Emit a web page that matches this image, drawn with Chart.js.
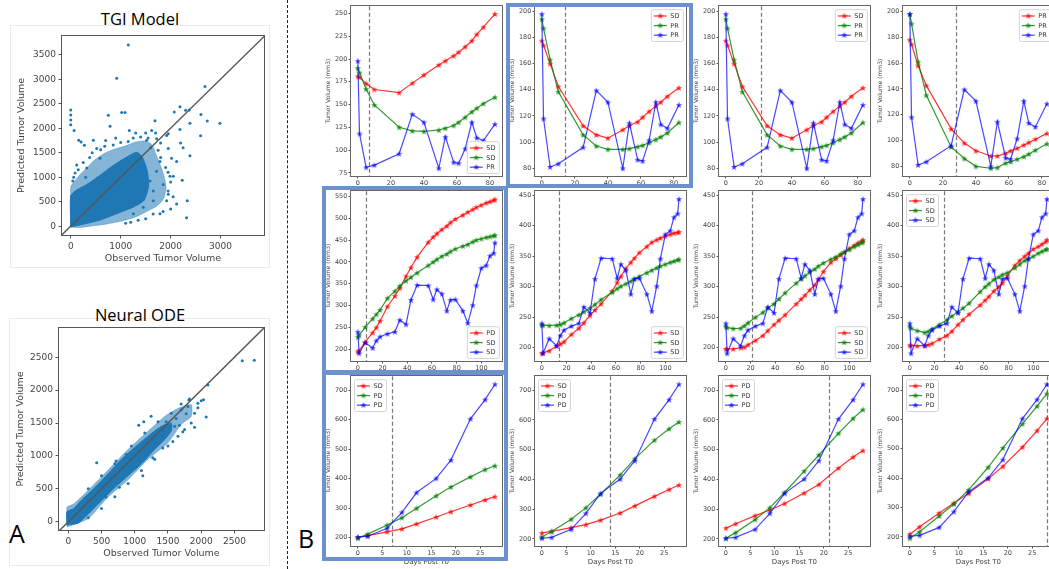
<!DOCTYPE html>
<html>
<head>
<meta charset="utf-8">
<script src="https://cdn.jsdelivr.net/npm/chart.js@4.4.1/dist/chart.umd.min.js"></script>
<style>
html, body { margin: 0; padding: 0; background: #fff; overflow: hidden; width: 1049px; height: 569px; }
canvas { position: absolute; }
.box { position: absolute; border: 4px solid #6d90cf; box-sizing: border-box; pointer-events: none; }
.panel { position: absolute; border: 1px solid #ebebeb; box-sizing: border-box; }
.ttl { position: absolute; font-family: 'Open Sans', sans-serif; font-size: 16.5px; line-height: 16px; color: #000; transform: translateX(-50%); white-space: nowrap; }
.lab { position: absolute; font-family: 'Open Sans', sans-serif; font-size: 25px; line-height: 25px; color: #000; }
#divider { position: absolute; left: 287px; top: 0; height: 569px; border-left: 1px dashed #222; }
</style>
</head>
<body>
<div class="panel" style="left:10px;top:25px;width:260px;height:243px"></div>
<div class="panel" style="left:9px;top:318px;width:261px;height:248px"></div>
<div class="ttl" style="left:140px;top:11px">TGI Model</div>
<div class="ttl" style="left:140px;top:307px">Neural ODE</div>
<div class="lab" style="left:9px;top:521px">A</div>
<div class="lab" style="left:298px;top:526px">B</div>
<div id="divider"></div>
<div id="charts"></div>
<div class="box" style="left:506px;top:3px;width:187px;height:185px"></div>
<div class="box" style="left:322px;top:186px;width:186px;height:188px"></div>
<div class="box" style="left:322px;top:371px;width:186px;height:190px"></div>

<script>
// ---- panel A: observed vs predicted (dense cloud outlined, sparse points listed) ----
const tgiCore = [[0,-15],[0,620],[120,740],[320,850],[587,1040],[853,1240],[1120,1410],[1320,1510],[1430,1420],[1530,1140],[1560,820],[1470,530],[1253,390],[920,255],[587,125],[253,40],[0,-15]];
const tgiHalo = [[0,-20],[0,800],[80,920],[200,1070],[350,1220],[500,1370],[700,1500],[900,1580],[1100,1640],[1300,1720],[1500,1740],[1630,1660],[1710,1460],[1790,1260],[1860,1050],[1910,800],[1860,560],[1710,400],[1500,290],[1300,190],[1000,100],[700,40],[400,0],[200,-25],[0,-20]];
const tgiPoints = [[1153,3700],[920,3020],[0,2370],[0,2270],[0,2170],[0,2070],[67,1953],[160,1753],[207,1720],[273,1653],[753,2267],[1020,2320],[1087,2320],[787,2040],[1173,1953],[1687,2153],[2073,2333],[2187,2440],[2300,2367],[2373,2373],[2687,2853],[2607,2280],[2733,2147],[2987,2100],[2387,2100],[2187,1973],[1953,1887],[2600,1847],[2387,1440],[2233,940],[2333,520],[2320,173],[2120,453],[1953,653],[1787,253],[1653,520],[1853,853],[1987,1020],[2053,1020],[453,1753],[520,1587],[587,1387],[87,1087],[40,920],[320,1187],[1520,1753],[1720,1787],[1920,1853],[1620,1953],[1953,1587],[2020,1387],[2120,1320],[1787,1320],[1720,1120],[1587,920],[1453,387],[1253,253],[1653,720],[1920,520],
    [150,1150],[250,1300],[380,1400],[430,1500],[600,1560],[680,1630],[850,1660],[1000,1710],[1150,1730],[1250,1800],[1400,1820],[1550,1800],[1600,1600],[1750,1550],[1800,1400],[1900,1200],[1950,1100],[2000,900],[1950,720],[2050,600],[2000,350],[1850,300],[1650,250],[1500,150],[1350,120],[1200,80],[1100,60],[300,1000],[60,1000],[120,1250],[1800,1700],[1700,1900],[2200,1700],[2250,1600],[1500,1900],[1300,1900],[900,1800],[700,1750]];
const odeCore = [[-20,-50],[150,-20],[300,120],[500,320],[700,520],[900,700],[1100,880],[1300,1100],[1450,1250],[1550,1380],[1550,1500],[1400,1450],[1200,1300],[1000,1130],[800,950],[600,730],[400,520],[200,330],[80,200],[-20,150],[-20,-50]];
const odeHalo = [[-20,-80],[300,50],[600,380],[900,640],[1200,950],[1500,1200],[1700,1480],[1850,1600],[1850,1780],[1650,1720],[1450,1600],[1250,1420],[1050,1240],[850,1050],[650,840],[450,630],[250,430],[80,270],[-20,220],[-20,-80]];
const odePoints = [[2618,2445],[2799,2455],[2100,2078],[1824,1865],[2000,1840],[2035,1855],[1950,1731],[2075,1592],[1900,1434],[1698,1790],[1246,1602],[1136,1518],[1060,1468],[427,898],[1472,1518],[1623,1568],[1673,1468],[1774,1642],[1573,1220],[1422,1121],[1271,972],[1121,699],[970,823],[769,526],[568,377],[317,228],[166,104],[719,923],[869,1022],[1322,1270],[1724,1369],[1814,1850],
    [300,500],[500,700],[700,880],[950,1150],[1150,1350],[1350,1520],[1550,1650],[1700,1700],[1800,1750],[1900,1650],[1850,1500],[1750,1400],[1650,1300],[1500,1150],[1300,950],[1100,780],[900,580],[700,380],[500,200],[300,60],[1950,1800],[1600,1450],[1400,1300],[1200,1050]];
const tgiTicksX = [0, 1000, 2000, 3000];
const tgiTicksY = [0, 500, 1000, 1500, 2000, 2500, 3000, 3500];
const odeTicks = [0, 500, 1000, 1500, 2000, 2500];

// ---- panel B: tumour volume over days (red, green = model, blue = observed) ----
const daysR1 = [0, 1, 5, 10, 25, 33, 40, 49, 53, 58, 61, 65, 69, 72, 76, 83];
const obsR1 = [198, 118, 81, 83.5, 96, 139.5, 130.5, 80, 114.5, 86.5, 85.5, 101.5, 130.5, 113.5, 110.5, 128.5];
const r1c1Red = [181, 180, 173, 166.5, 163, 173.5, 182.5, 193.5, 198, 203.5, 207.5, 213.5, 220, 227, 235, 249.5];
const r1c1Green = [190, 185, 167, 149.5, 125, 121, 120.5, 122, 124, 127, 130.5, 136, 142, 146, 151, 158];
const r1c2Red = [177.5, 174, 160, 142.5, 112.5, 105.5, 103, 109.5, 112.5, 115.5, 119, 123.5, 127.5, 130.5, 135, 141.5];
const r1c2Green = [194, 187, 163, 138.5, 105.5, 97, 94.5, 94.5, 95, 96.5, 97.5, 99.5, 102, 104, 107, 115];
const r1c3Red = [177.5, 174, 160, 142.5, 112.5, 105.5, 103, 109.5, 112.5, 115.5, 119, 123.5, 127.5, 130.5, 135, 141.5];
const r1c3Green = [194, 187, 163, 138.5, 105.5, 97, 94.5, 94.5, 95, 96.5, 97.5, 99.5, 102, 104, 107, 115];
const r1c4Red = [178, 174.5, 158, 142.5, 109, 98, 92, 88, 88, 90, 92, 94, 96.5, 98.5, 101, 105.5];
const r1c4Green = [198, 190.5, 161, 135, 95, 86, 80, 78.5, 79, 82.5, 83.5, 85.5, 87.5, 89.5, 92.5, 97.5];

const daysR2 = [0, 1, 6, 12, 15, 18, 24, 30, 34, 39, 43, 48, 57, 61, 64, 68, 72, 75, 79, 85, 89, 93, 96, 100, 104, 107, 110, 111];
const obsR2 = [240, 191, 215, 203, 220, 229, 235.5, 240, 267, 257, 313, 347, 346, 314, 337, 327, 288, 313, 314, 288, 260, 301, 346, 386, 392, 414, 420, 444];
const r2c1Red = [195, 197, 217, 238, 250, 265, 298, 322, 340, 367, 387, 411, 445, 457, 465, 474, 482, 490, 498, 507, 514, 520, 525, 530, 535, 538, 541, 543];
const r2c1Green = [228, 232, 251, 270, 280, 290, 317, 333, 345, 357, 365, 375, 392, 400, 406, 413, 418, 424, 430, 436, 440, 446, 450, 453, 456, 458, 460, 461];
const r2c2Red = [191, 192, 195, 203, 206, 210, 222, 232, 241, 253, 262, 272, 293, 307, 317, 330, 340, 347, 356, 366, 373, 377, 380, 383, 386, 388, 389, 390];
const r2c2Green = [237, 237, 236.5, 237, 238, 241, 248, 254, 259, 265, 271, 279, 291, 297, 301, 305, 309, 313, 317, 323, 327, 331, 334, 337, 340, 342, 344, 345];
const r2c3Red = [198, 198, 198, 200, 201, 205, 212, 220, 228, 238, 245, 254, 272, 280, 286, 295, 303, 312, 325, 340, 346, 352, 357, 363, 368, 372, 375, 377];
const r2c3Green = [235, 233, 231.5, 232, 236, 241, 250, 258, 265, 272, 280, 290, 306, 313, 318, 324, 329, 334, 339, 345, 349, 354, 357, 361, 366, 369, 372, 374];
const r2c4Red = [204, 204, 203, 204, 205, 207, 214, 220, 227, 238, 246, 255, 270, 278, 284, 293, 300, 306, 318, 335, 343, 350, 355, 362, 366, 370, 374, 377];
const r2c4Green = [235, 232, 228, 225, 227, 231, 238, 246, 252, 259, 265, 273, 292, 300, 305, 312, 316, 320, 323, 331, 337, 343, 346, 350, 355, 358, 361, 362];

const daysR3 = [0, 2, 6, 9, 12, 16, 19, 23, 26, 28];
const obsR3 = [202, 205, 232, 286, 353, 401, 463, 603, 668, 720];
const r3c1Red = [202, 207, 220, 230, 247, 270, 288, 311, 328, 339];
const r3c1Green = [198, 212, 243, 268, 300, 342, 372, 406, 431, 444];
const r3c2Red = [220, 225, 238, 248, 263, 287, 311, 343, 366, 381];
const r3c2Green = [206, 225, 266, 305, 350, 415, 470, 532, 570, 593];
const r3c3Red = [236, 251, 278, 297, 319, 354, 383, 438, 475, 497];
const r3c3Green = [202, 221, 265, 305, 356, 428, 482, 555, 605, 635];
const r3c4Red = [209, 234, 281, 315, 348, 398, 440, 506, 562, 603];
const r3c4Green = [195, 217, 271, 312, 360, 437, 503, 585, 645, 688];

const cutoffDays = [7, 14, 21, 28];
const legendR1 = [['SD', 'SD', 'PR'], ['SD', 'PR', 'PR'], ['SD', 'PR', 'PR'], ['PR', 'PR', 'PR']];
const legendR2 = [['PD', 'SD', 'SD'], ['SD', 'SD', 'SD'], ['SD', 'SD', 'SD'], ['SD', 'SD', 'SD']];
const legendR3 = [['SD', 'PD', 'PD'], ['SD', 'PD', 'PD'], ['PD', 'PD', 'PD'], ['PD', 'PD', 'PD']];
const xTicksR1 = [0, 20, 40, 60, 80];
const xTicksR2 = [0, 20, 40, 60, 80, 100];
const xTicksR3 = [0, 5, 10, 15, 20, 25];

const FONT = "'DejaVu Sans', sans-serif";
const COLORS = ['rgba(255,0,0,0.8)', 'rgba(0,128,0,0.8)', 'rgba(0,0,255,0.72)'];

function starImg(color) {
    const c = document.createElement('canvas');
    c.width = 8; c.height = 8;
    const g = c.getContext('2d');
    g.fillStyle = color;
    g.beginPath();
    for (let i = 0; i < 10; i++) {
        const r = i % 2 ? 1.4 : 3.3;
        const a = -Math.PI / 2 + i * Math.PI / 5;
        g.lineTo(4 + r * Math.cos(a), 4.3 + r * Math.sin(a));
    }
    g.closePath();
    g.fill();
    return c;
}
const STARS = COLORS.map(starImg);

// frame, dashed cut-off line and a matplotlib-like legend
const mplPlugin = {
    id: 'mpl',
    beforeDatasetsDraw(chart, args, opts) {
        if (opts.vline == null) return;
        const a = chart.chartArea, x = Math.round(chart.scales.x.getPixelForValue(opts.vline)) + 0.5;
        const ctx = chart.ctx;
        ctx.save();
        ctx.strokeStyle = '#777';
        ctx.lineWidth = 1.2;
        ctx.setLineDash([4, 2.5]);
        ctx.beginPath(); ctx.moveTo(x, a.top); ctx.lineTo(x, a.bottom); ctx.stroke();
        ctx.restore();
    },
    afterDraw(chart, args, opts) {
        const a = chart.chartArea, ctx = chart.ctx;
        ctx.save();
        ctx.strokeStyle = opts.frame || '#666';
        ctx.lineWidth = 1;
        ctx.strokeRect(Math.round(a.left) - 0.5, Math.round(a.top) - 0.5, Math.round(a.right - a.left) + 1, Math.round(a.bottom - a.top) + 1);
        if (opts.legend) {
            const w = 32, rh = 9.6, h = 3 * rh + 3;
            let x = a.right - w - 3, y = a.top + 3;
            if (opts.legendPos[0] === 'l') y = a.bottom - h - 3;
            if (opts.legendPos[1] === 'l') x = a.left + 3;
            ctx.fillStyle = 'rgba(255,255,255,0.85)';
            ctx.strokeStyle = '#d4d4d4';
            ctx.beginPath(); ctx.roundRect(x + 0.5, y + 0.5, w, h, 2); ctx.fill(); ctx.stroke();
            ctx.font = '6.5px ' + FONT;
            ctx.textBaseline = 'middle';
            opts.legend.forEach((t, i) => {
                const yy = y + 2 + rh * (i + 0.5);
                ctx.strokeStyle = COLORS[i]; ctx.lineWidth = 1.2;
                ctx.beginPath(); ctx.moveTo(x + 3, yy); ctx.lineTo(x + 16, yy); ctx.stroke();
                ctx.drawImage(STARS[i], x + 9.5 - 4, yy - 4.3);
                ctx.fillStyle = '#333';
                ctx.fillText(t, x + 19.5, yy + 0.5);
            });
        }
        ctx.restore();
    }
};
Chart.register(mplPlugin);

function makeCanvas(left, top, w, h) {
    const cv = document.createElement('canvas');
    cv.width = w; cv.height = h;
    cv.style.left = left + 'px'; cv.style.top = top + 'px';
    cv.style.width = w + 'px'; cv.style.height = h + 'px';
    document.getElementById('charts').appendChild(cv);
    return cv;
}

function axis(min, max, ticks, size, fontSize, title, titleSize, horizontal, tick) {
    return {
        type: 'linear', min: min, max: max,
        afterBuildTicks: s => { s.ticks = ticks.map(v => ({ value: v })); },
        afterFit: s => { if (horizontal) s.height = size; else s.width = size; },
        grid: { display: true, drawOnChartArea: false, drawTicks: true, tickLength: tick, color: '#555' },
        border: { display: false },
        ticks: { font: { family: FONT, size: fontSize }, color: '#444', padding: tick > 3 ? 2.5 : 1.2, maxRotation: 0, autoSkip: false, callback: v => String(v) },
        title: { display: !!title, text: title, font: { family: FONT, size: titleSize }, color: '#444', padding: horizontal ? { top: 1, bottom: 3 } : { top: 4, bottom: 1 } }
    };
}

const COLS = [351, 535, 719, 903];
const ROWS = [5, 190, 375];
const FW = 153, FH = 171;

function lineChart(col, row, days, red, green, obs, labels, yMin, yMax, yTicks, xMin, xMax, xTicks, legendPos) {
    const yw = 30, xh = row === 2 ? 23 : 14, pt = 4, pr = 3;
    const cv = makeCanvas(COLS[col] - yw, ROWS[row] - pt, FW + yw + pr, FH + pt + xh);
    const series = [red, green, obs];
    new Chart(cv, {
        type: 'line',
        data: {
            datasets: series.map((s, i) => ({
                label: labels[i],
                data: days.map((d, j) => ({ x: d, y: s[j] })),
                borderColor: COLORS[i], backgroundColor: COLORS[i],
                borderWidth: 1.2, pointStyle: STARS[i], pointRadius: 3,
                tension: 0, order: 2 - i
            }))
        },
        options: {
            responsive: false, animation: false, events: [],
            layout: { padding: { top: pt, right: pr, left: 0, bottom: 0 } },
            scales: {
                x: axis(xMin, xMax, xTicks, xh, 6.5, row === 2 ? 'Days Post T0' : '', 7, true, 2.5),
                y: axis(yMin, yMax, yTicks, yw, 6.5, 'Tumor Volume (mm3)', 6, false, 2.5)
            },
            plugins: {
                legend: { display: false }, tooltip: { enabled: false },
                mpl: { vline: cutoffDays[col], legend: labels, legendPos: legendPos, frame: '#666' }
            }
        }
    });
}

function scatterChart(frame, core, halo, points, xMin, xMax, yMin, yMax, xTicks, yTicks, yw) {
    const xh = 32, pt = 4, pr = 4;
    const cv = makeCanvas(frame[0] - yw, frame[1] - pt, frame[2] + yw + pr, frame[3] + pt + xh);
    const toXY = arr => arr.map(p => ({ x: p[0], y: p[1] }));
    new Chart(cv, {
        type: 'scatter',
        data: {
            datasets: [
                { data: [{ x: -1000, y: -1000 }, { x: 6000, y: 6000 }], showLine: true, borderColor: '#555', borderWidth: 1.4, pointRadius: 0, order: 0 },
                { data: toXY(points), backgroundColor: '#1f77b4', borderWidth: 0, pointRadius: 1.5, order: 1 },
                { data: toXY(core), showLine: true, fill: 'shape', backgroundColor: '#1f77b4', borderColor: '#1f77b4', borderWidth: 1, pointRadius: 0, tension: 0.2, order: 2 },
                { data: toXY(halo), showLine: true, fill: 'shape', backgroundColor: 'rgba(31,119,180,0.55)', borderColor: 'rgba(31,119,180,0.35)', borderWidth: 1, pointRadius: 0, tension: 0.2, order: 3 }
            ]
        },
        options: {
            responsive: false, animation: false, events: [],
            layout: { padding: { top: pt, right: pr, left: 0, bottom: 0 } },
            scales: {
                x: axis(xMin, xMax, xTicks, xh, 9, 'Observed Tumor Volume', 9.5, true, 3.5),
                y: axis(yMin, yMax, yTicks, yw, 9, 'Predicted Tumor Volume', 9.5, false, 3.5)
            },
            plugins: { legend: { display: false }, tooltip: { enabled: false }, mpl: { frame: '#555' } }
        }
    });
}

scatterChart([62, 32, 202, 203], tgiCore, tgiHalo, tgiPoints, -175, 3870, -180, 3885, tgiTicksX, tgiTicksY, 50);
scatterChart([59, 324, 205, 206], odeCore, odeHalo, odePoints, -140, 2945, -125, 2945, odeTicks, odeTicks, 48);

const y1 = [75, 100, 125, 150, 175, 200, 225, 250], y1b = [80, 100, 120, 140, 160, 180, 200];
lineChart(0, 0, daysR1, r1c1Red, r1c1Green, obsR1, legendR1[0], 71.5, 258, y1, -4.15, 87.15, xTicksR1, 'lr');
lineChart(1, 0, daysR1, r1c2Red, r1c2Green, obsR1, legendR1[1], 74.1, 203.9, y1b, -4.15, 87.15, xTicksR1, 'ur');
lineChart(2, 0, daysR1, r1c3Red, r1c3Green, obsR1, legendR1[2], 74.1, 203.9, y1b, -4.15, 87.15, xTicksR1, 'ur');
lineChart(3, 0, daysR1, r1c4Red, r1c4Green, obsR1, legendR1[3], 72.5, 204, y1b, -4.15, 87.15, xTicksR1, 'ur');

const y2 = [200, 250, 300, 350, 400, 450, 500, 550], y2b = [200, 250, 300, 350, 400, 450];
lineChart(0, 1, daysR2, r2c1Red, r2c1Green, obsR2, legendR2[0], 173.3, 561.7, y2, -5.55, 116.55, xTicksR2, 'lr');
lineChart(1, 1, daysR2, r2c2Red, r2c2Green, obsR2, legendR2[1], 178.3, 456.7, y2b, -5.55, 116.55, xTicksR2, 'lr');
lineChart(2, 1, daysR2, r2c3Red, r2c3Green, obsR2, legendR2[2], 178.3, 456.7, y2b, -5.55, 116.55, xTicksR2, 'lr');
lineChart(3, 1, daysR2, r2c4Red, r2c4Green, obsR2, legendR2[3], 178.3, 456.7, y2b, -5.55, 116.55, xTicksR2, 'ul');

const y3 = [200, 300, 400, 500, 600, 700];
lineChart(0, 2, daysR3, r3c1Red, r3c1Green, obsR3, legendR3[0], 171.9, 747.2, y3, -1.4, 29.4, xTicksR3, 'ul');
lineChart(1, 2, daysR3, r3c2Red, r3c2Green, obsR3, legendR3[1], 176, 747, y3, -1.4, 29.4, xTicksR3, 'ul');
lineChart(2, 2, daysR3, r3c3Red, r3c3Green, obsR3, legendR3[2], 176, 747, y3, -1.4, 29.4, xTicksR3, 'ul');
lineChart(3, 2, daysR3, r3c4Red, r3c4Green, obsR3, legendR3[3], 168.7, 747.3, y3, -1.4, 29.4, xTicksR3, 'ul');
</script>
</body>
</html>
